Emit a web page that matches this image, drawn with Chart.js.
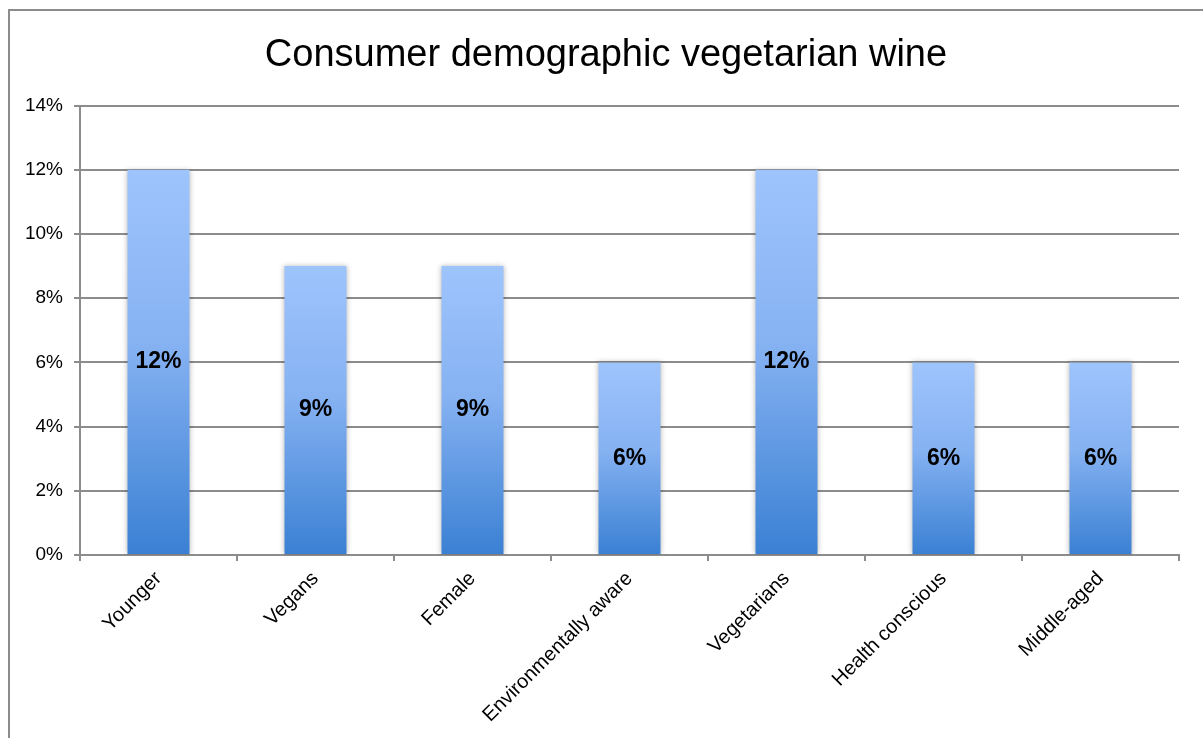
<!DOCTYPE html>
<html>
<head>
<meta charset="utf-8">
<title>Consumer demographic vegetarian wine</title>
<script src="https://cdn.jsdelivr.net/npm/chart.js@4/dist/chart.umd.min.js"></script>
<style>
  html, body { margin: 0; padding: 0; background: #fff; }
  #wrap { position: relative; width: 1203px; height: 738px; }
</style>
</head>
<body>
<div id="wrap"><canvas id="demoChart" width="1203" height="738"></canvas></div>
<script>
// data
const categories = ['Younger', 'Vegans', 'Female', 'Environmentally aware', 'Vegetarians', 'Health conscious', 'Middle-aged'];
const shares = [12, 9, 9, 6, 12, 6, 6];
const yMax = 14;
const yStep = 2;

const GRID = '#8c8c8c';
const FONT = '"Liberation Sans", Arial, sans-serif';

// gradient per bar, light on top, darker at the base
function barFill(context) {
  const chart = context.chart;
  const yScale = chart.scales.y;
  if (!yScale || context.raw === undefined) return '#6fa3ea';
  const top = yScale.getPixelForValue(context.raw);
  const bottom = yScale.getPixelForValue(0);
  if (!isFinite(top) || !isFinite(bottom) || top === bottom) return '#6fa3ea';
  const g = chart.ctx.createLinearGradient(0, top, 0, bottom);
  g.addColorStop(0, '#9ec4fc');
  g.addColorStop(0.45, '#86b2f2');
  g.addColorStop(1, '#3a80d3');
  return g;
}

// outer frame, and the title centred across the whole frame
const framePlugin = {
  id: 'frame',
  afterLayout(chart) {
    if (chart.titleBlock) {
      chart.titleBlock.left = 9;
      chart.titleBlock.right = chart.width;
    }
  },
  beforeDraw(chart) {
    const ctx = chart.ctx;
    ctx.save();
    ctx.fillStyle = '#fff';
    ctx.fillRect(0, 0, chart.width, chart.height);
    ctx.strokeStyle = '#8c8c8c';
    ctx.lineWidth = 2;
    ctx.strokeRect(9, 10, chart.width + 20, chart.height + 20);
    ctx.restore();
  }
};

// soft shadow behind bars, value labels in the middle of each bar
const barDecor = {
  id: 'barDecor',
  beforeDatasetsDraw(chart) {
    const ctx = chart.ctx;
    ctx.save();
    ctx.shadowColor = 'rgba(0,0,0,0.28)';
    ctx.shadowBlur = 5;
    ctx.shadowOffsetX = 0;
    ctx.shadowOffsetY = 0;
  },
  afterDatasetsDraw(chart) {
    const ctx = chart.ctx;
    ctx.restore();
    const meta = chart.getDatasetMeta(0);
    ctx.save();
    ctx.font = 'bold 23px ' + FONT;
    ctx.fillStyle = '#000';
    ctx.textAlign = 'center';
    ctx.textBaseline = 'middle';
    meta.data.forEach((bar, i) => {
      const mid = (bar.y + bar.base) / 2;
      ctx.fillText(shares[i] + '%', bar.x, mid);
    });
    ctx.restore();
  }
};

new Chart(document.getElementById('demoChart'), {
  type: 'bar',
  data: {
    labels: categories,
    datasets: [{
      data: shares,
      backgroundColor: barFill,
      borderWidth: 0,
      categoryPercentage: 1,
      barPercentage: 0.395
    }]
  },
  options: {
    responsive: false,
    animation: false,
    layout: { padding: { left: 0, right: 24, top: 0, bottom: 0 } },
    plugins: {
      legend: { display: false },
      tooltip: { enabled: false },
      title: {
        display: true,
        text: 'Consumer demographic vegetarian wine',
        color: '#000',
        font: { family: FONT, size: 38, weight: 'normal' },
        padding: { top: 33, bottom: 27 }
      }
    },
    scales: {
      x: {
        grid: { drawOnChartArea: false, drawTicks: true, tickLength: 6, color: GRID, lineWidth: 2 },
        border: { color: GRID, width: 2 },
        ticks: {
          color: '#000',
          font: { family: FONT, size: 20 },
          minRotation: 45,
          maxRotation: 45,
          padding: 6,
          autoSkip: false
        },
        afterFit(scale) { scale.height = 183; }
      },
      y: {
        min: 0,
        max: yMax,
        grid: { color: GRID, lineWidth: 2, tickLength: 6 },
        border: { color: GRID, width: 2 },
        ticks: {
          stepSize: yStep,
          color: '#000',
          font: { family: FONT, size: 19 },
          padding: 11,
          callback: v => v + '%'
        },
        afterFit(scale) { scale.width = 80; }
      }
    }
  },
  plugins: [framePlugin, barDecor]
});
</script>
</body>
</html>
